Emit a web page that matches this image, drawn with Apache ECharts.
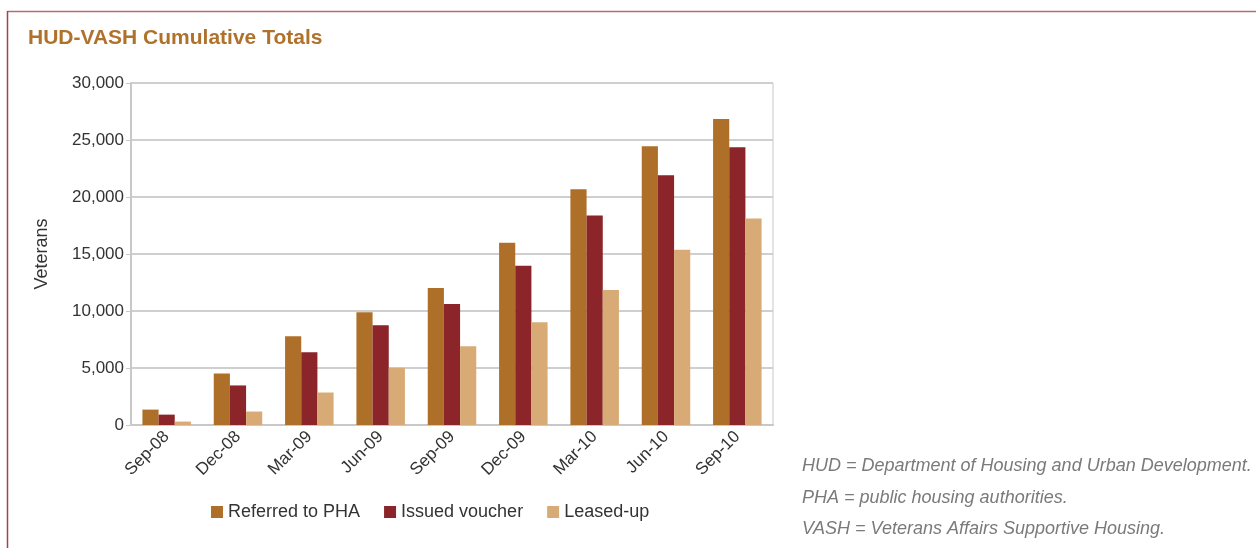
<!DOCTYPE html>
<html>
<head>
<meta charset="utf-8">
<script src="https://cdn.jsdelivr.net/npm/echarts@6/dist/echarts.min.js"></script>
<style>
html, body { margin: 0; padding: 0; background: #fff; }
#chart { position: absolute; left: 0; top: 0; width: 1256px; height: 548px; }
</style>
</head>
<body>
<div id="chart"></div>
<script>
// quarters
var categories = ['Sep-08', 'Dec-08', 'Mar-09', 'Jun-09', 'Sep-09', 'Dec-09', 'Mar-10', 'Jun-10', 'Sep-10'];
var referred = [1350, 4520, 7780, 9900, 12020, 15990, 20670, 24460, 26840];
var issued = [910, 3470, 6380, 8750, 10610, 13960, 18380, 21910, 24370];
var leased = [300, 1180, 2850, 5020, 6900, 9020, 11840, 15370, 18110];
var notes = [
    'HUD = Department of Housing and Urban Development.',
    'PHA = public housing authorities.',
    'VASH = Veterans Affairs Supportive Housing.'
];

var font = '"Liberation Sans", Arial, sans-serif';
var chart = echarts.init(document.getElementById('chart'));

function bar(name, data, color) {
    return {
        name: name,
        type: 'bar',
        data: data,
        barGap: '0%',
        barCategoryGap: '32%',
        itemStyle: { color: color }
    };
}

// frame lines + footnotes
var graphics = [
    { type: 'line', shape: { x1: 7.5, y1: 11.5, x2: 1256, y2: 11.5 }, style: { stroke: '#b86b6e', lineWidth: 1.5 } },
    { type: 'line', shape: { x1: 7.5, y1: 11, x2: 7.5, y2: 548 }, style: { stroke: '#a04448', lineWidth: 1.5 } }
];
notes.forEach(function (t, i) {
    graphics.push({
        type: 'text',
        left: 802, top: 457 + i * 31.5,
        style: { text: t, fontSize: 18, fontStyle: 'italic', fill: '#7a7a7a', fontFamily: font }
    });
});

chart.setOption({
    animation: false,
    textStyle: { fontFamily: font },
    title: {
        text: 'HUD-VASH Cumulative Totals',
        left: 23, top: 23,
        textStyle: { fontSize: 21, fontWeight: 'bold', color: '#b0712b', fontFamily: font }
    },
    grid: {
        left: 131, top: 83, right: 483, bottom: 123,
        show: true, borderColor: '#c8c8c8', borderWidth: 1
    },
    legend: {
        left: 206, top: 498,
        itemWidth: 12, itemHeight: 12, itemGap: 24,
        icon: 'rect',
        textStyle: { fontSize: 18, color: '#333' },
        data: ['Referred to PHA', 'Issued voucher', 'Leased-up']
    },
    xAxis: {
        type: 'category',
        data: categories,
        axisLine: { lineStyle: { color: '#c8c8c8', width: 2 } },
        axisTick: { length: 6, lineStyle: { color: '#c8c8c8', width: 2 } },
        axisLabel: { rotate: 45, fontSize: 17, color: '#333', margin: 9 }
    },
    yAxis: {
        type: 'value',
        min: 0, max: 30000, interval: 5000,
        name: 'Veterans',
        nameLocation: 'middle',
        nameGap: 80,
        nameTextStyle: { fontSize: 18, color: '#333' },
        axisLine: { show: true, lineStyle: { color: '#c8c8c8', width: 2 } },
        axisTick: { show: true, length: 5, lineStyle: { color: '#c8c8c8' } },
        splitLine: { lineStyle: { color: '#cfcfcf', width: 2 } },
        axisLabel: {
            fontSize: 17, color: '#333', margin: 7,
            formatter: function (v) { return v.toLocaleString('en-US'); }
        }
    },
    graphic: graphics,
    series: [
        bar('Referred to PHA', referred, '#ae7028'),
        bar('Issued voucher', issued, '#8b2529'),
        bar('Leased-up', leased, '#d8ab76')
    ]
});
</script>
</body>
</html>
